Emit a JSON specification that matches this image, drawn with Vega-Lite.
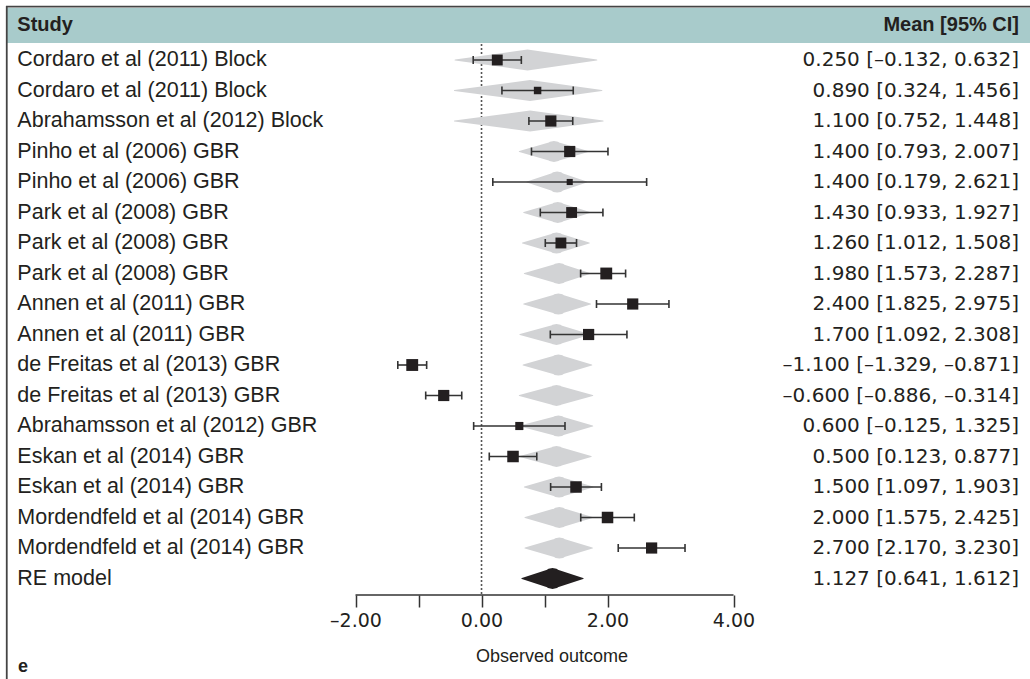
{
  "$schema": "https://vega.github.io/schema/vega-lite/v6.json",
  "width": 1024,
  "height": 673,
  "autosize": {"type": "none"},
  "padding": {"left": 6, "top": 6, "right": 0, "bottom": 0},
  "background": "white",
  "config": {"view": {"stroke": null}},
  "datasets": {
    "rows": [
      {"row": 1, "study": "Cordaro et al (2011) Block", "kind": "study", "est": 0.25, "lo": -0.132, "hi": 0.632, "weight": 5.7, "pl": -0.42, "pe": 0.73, "pu": 1.83, "ci": "0.250 [–0.132, 0.632]"},
      {"row": 2, "study": "Cordaro et al (2011) Block", "kind": "study", "est": 0.89, "lo": 0.324, "hi": 1.456, "weight": 2.7, "pl": -0.43, "pe": 0.77, "pu": 1.91, "ci": "0.890 [0.324, 1.456]"},
      {"row": 3, "study": "Abrahamsson et al (2012) Block", "kind": "study", "est": 1.1, "lo": 0.752, "hi": 1.448, "weight": 6.05, "pl": -0.43, "pe": 0.77, "pu": 1.93, "ci": "1.100 [0.752, 1.448]"},
      {"row": 4, "study": "Pinho et al (2006) GBR", "kind": "study", "est": 1.4, "lo": 0.793, "hi": 2.007, "weight": 6.05, "pl": 0.6, "pe": 1.15, "pu": 1.69, "ci": "1.400 [0.793, 2.007]"},
      {"row": 5, "study": "Pinho et al (2006) GBR", "kind": "study", "est": 1.4, "lo": 0.179, "hi": 2.621, "weight": 1.8, "pl": 0.72, "pe": 1.2, "pu": 1.67, "ci": "1.400 [0.179, 2.621]"},
      {"row": 6, "study": "Park et al (2008) GBR", "kind": "study", "est": 1.43, "lo": 0.933, "hi": 1.927, "weight": 5.7, "pl": 0.67, "pe": 1.21, "pu": 1.72, "ci": "1.430 [0.933, 1.927]"},
      {"row": 7, "study": "Park et al (2008) GBR", "kind": "study", "est": 1.26, "lo": 1.012, "hi": 1.508, "weight": 5.7, "pl": 0.65, "pe": 1.19, "pu": 1.71, "ci": "1.260 [1.012, 1.508]"},
      {"row": 8, "study": "Park et al (2008) GBR", "kind": "study", "est": 1.98, "lo": 1.573, "hi": 2.287, "weight": 6.8, "pl": 0.68, "pe": 1.23, "pu": 1.72, "ci": "1.980 [1.573, 2.287]"},
      {"row": 9, "study": "Annen et al (2011) GBR", "kind": "study", "est": 2.4, "lo": 1.825, "hi": 2.975, "weight": 6.05, "pl": 0.67, "pe": 1.22, "pu": 1.73, "ci": "2.400 [1.825, 2.975]"},
      {"row": 10, "study": "Annen et al (2011) GBR", "kind": "study", "est": 1.7, "lo": 1.092, "hi": 2.308, "weight": 6.05, "pl": 0.61, "pe": 1.19, "pu": 1.71, "ci": "1.700 [1.092, 2.308]"},
      {"row": 11, "study": "de Freitas et al (2013) GBR", "kind": "study", "est": -1.1, "lo": -1.329, "hi": -0.871, "weight": 6.8, "pl": 0.66, "pe": 1.22, "pu": 1.75, "ci": "–1.100 [–1.329, –0.871]"},
      {"row": 12, "study": "de Freitas et al (2013) GBR", "kind": "study", "est": -0.6, "lo": -0.886, "hi": -0.314, "weight": 6.05, "pl": 0.6, "pe": 1.19, "pu": 1.765, "ci": "–0.600 [–0.886, –0.314]"},
      {"row": 13, "study": "Abrahamsson et al (2012) GBR", "kind": "study", "est": 0.6, "lo": -0.125, "hi": 1.325, "weight": 3.2, "pl": 0.61, "pe": 1.22, "pu": 1.765, "ci": "0.600 [–0.125, 1.325]"},
      {"row": 14, "study": "Eskan et al (2014) GBR", "kind": "study", "est": 0.5, "lo": 0.123, "hi": 0.877, "weight": 6.4, "pl": 0.61, "pe": 1.19, "pu": 1.74, "ci": "0.500 [0.123, 0.877]"},
      {"row": 15, "study": "Eskan et al (2014) GBR", "kind": "study", "est": 1.5, "lo": 1.097, "hi": 1.903, "weight": 6.4, "pl": 0.68, "pe": 1.23, "pu": 1.77, "ci": "1.500 [1.097, 1.903]"},
      {"row": 16, "study": "Mordendfeld et al (2014) GBR", "kind": "study", "est": 2.0, "lo": 1.575, "hi": 2.425, "weight": 6.4, "pl": 0.69, "pe": 1.235, "pu": 1.76, "ci": "2.000 [1.575, 2.425]"},
      {"row": 17, "study": "Mordendfeld et al (2014) GBR", "kind": "study", "est": 2.7, "lo": 2.17, "hi": 3.23, "weight": 6.05, "pl": 0.69, "pe": 1.235, "pu": 1.76, "ci": "2.700 [2.170, 3.230]"},
      {"row": 18, "study": "RE model", "kind": "model", "est": 1.127, "lo": 0.641, "hi": 1.612, "pl": 0.641, "pe": 1.127, "pu": 1.612, "ci": "1.127 [0.641, 1.612]"}
    ]
  },
  "resolve": {"scale": {"size": "independent", "color": "independent"}},
  "layer": [
    {
      "data": {"values": [{}]},
      "mark": {"type": "rect", "color": "#a8cbcb"},
      "encoding": {
        "x": {
          "datum": -7.548, "type": "quantitative",
          "scale": {"domain": [-7.548, 8.706], "nice": false, "zero": false},
          "axis": {
            "values": [-2, -1, 0, 1, 2, 4],
            "domain": false, "grid": false, "title": null,
            "ticks": true, "tickSize": 12, "tickColor": "#333333", "tickWidth": 1.5,
            "labelFont": "DejaVu Sans", "labelFontSize": 19, "labelColor": "#231f20", "labelPadding": 4,
            "offset": -84,
            "labelExpr": "datum.value == -1 || datum.value == 1 ? '' : (datum.value < 0 ? '–' : '') + format(abs(datum.value), '.2f')"
          }
        },
        "x2": {"datum": 8.706},
        "y": {"datum": -0.705, "type": "quantitative", "scale": {"domain": [-0.7705, 21.295], "nice": false, "zero": false, "reverse": true}, "axis": null},
        "y2": {"datum": 0.443}
      }
    },
    {
      "data": {"values": [{}]},
      "mark": {"type": "rule", "color": "#444444", "strokeWidth": 1.8},
      "encoding": {
        "x": {"datum": -7.548, "type": "quantitative"},
        "x2": {"datum": 8.706},
        "y": {"datum": -0.752, "type": "quantitative", "axis": null}
      }
    },
    {
      "data": {"values": [{}]},
      "mark": {"type": "rule", "color": "#444444", "strokeWidth": 1.8},
      "encoding": {
        "x": {"datum": -7.536, "type": "quantitative"},
        "y": {"datum": -0.7705, "type": "quantitative", "axis": null},
        "y2": {"datum": 21.295}
      }
    },
    {
      "data": {"values": [{}]},
      "mark": {"type": "rule", "color": "#555555", "strokeWidth": 1.6, "strokeDash": [2, 2]},
      "encoding": {
        "x": {"datum": 0, "type": "quantitative"},
        "y": {"datum": 0.475, "type": "quantitative", "axis": null},
        "y2": {"datum": 18.54}
      }
    },
    {
      "data": {"name": "rows"},
      "transform": [{"fold": ["pl", "pe", "pu"], "as": ["k", "v"]}],
      "mark": {"type": "trail"},
      "encoding": {
        "x": {"field": "v", "type": "quantitative", "title": null},
        "y": {"field": "row", "type": "quantitative", "axis": null},
        "detail": {"field": "row", "type": "nominal"},
        "order": {"field": "v", "type": "quantitative"},
        "size": {"field": "k", "type": "ordinal", "scale": {"type": "ordinal", "domain": ["pl", "pe", "pu"], "range": [0, 21, 0]}, "legend": null},
        "color": {"field": "kind", "type": "nominal", "scale": {"domain": ["study", "model"], "range": ["#d2d3d5", "#231f20"]}, "legend": null}
      }
    },
    {
      "data": {"name": "rows"},
      "transform": [{"filter": "datum.row < 18"}],
      "mark": {"type": "rule", "color": "#333333", "strokeWidth": 1.6},
      "encoding": {
        "x": {"field": "lo", "type": "quantitative", "title": null},
        "x2": {"field": "hi"},
        "y": {"field": "row", "type": "quantitative", "axis": null}
      }
    },
    {
      "data": {"name": "rows"},
      "transform": [{"filter": "datum.row < 18"}, {"fold": ["lo", "hi"], "as": ["ck", "cv"]}],
      "mark": {"type": "point", "shape": "M0,-1L0,1", "size": 64, "filled": false, "stroke": "#333333", "strokeWidth": 1.6, "opacity": 1},
      "encoding": {
        "x": {"field": "cv", "type": "quantitative", "title": null},
        "y": {"field": "row", "type": "quantitative", "axis": null}
      }
    },
    {
      "data": {"name": "rows"},
      "transform": [{"filter": "datum.row < 18"}],
      "mark": {"type": "point", "shape": "square", "filled": true, "color": "#231f20", "opacity": 1, "strokeWidth": 0},
      "encoding": {
        "x": {"field": "est", "type": "quantitative", "title": null},
        "y": {"field": "row", "type": "quantitative", "axis": null},
        "size": {"field": "weight", "type": "quantitative", "scale": {"domain": [0, 7], "range": [0, 145], "zero": true}, "legend": null}
      }
    },
    {
      "data": {"values": [{}]},
      "mark": {"type": "rule", "color": "#333333", "strokeWidth": 1.5},
      "encoding": {
        "x": {"datum": -2, "type": "quantitative"},
        "x2": {"datum": 4},
        "y": {"datum": 18.541, "type": "quantitative", "axis": null}
      }
    },
    {
      "data": {"name": "rows"},
      "mark": {"type": "text", "align": "left", "baseline": "middle", "font": "Liberation Sans", "fontSize": 21.5, "color": "#231f20"},
      "encoding": {
        "x": {"datum": -7.368, "type": "quantitative"},
        "y": {"field": "row", "type": "quantitative", "axis": null},
        "text": {"field": "study"}
      }
    },
    {
      "data": {"name": "rows"},
      "mark": {"type": "text", "align": "right", "baseline": "middle", "font": "DejaVu Sans", "fontSize": 20, "color": "#231f20"},
      "encoding": {
        "x": {"datum": 8.532, "type": "quantitative"},
        "y": {"field": "row", "type": "quantitative", "axis": null},
        "text": {"field": "ci"}
      }
    },
    {
      "data": {"values": [{"t": "Study"}]},
      "mark": {"type": "text", "align": "left", "baseline": "middle", "font": "Liberation Sans", "fontWeight": "bold", "fontSize": 20, "color": "#231f20"},
      "encoding": {
        "x": {"datum": -7.368, "type": "quantitative"},
        "y": {"datum": -0.1475, "type": "quantitative", "axis": null},
        "text": {"field": "t"}
      }
    },
    {
      "data": {"values": [{"t": "Mean [95% CI]"}]},
      "mark": {"type": "text", "align": "right", "baseline": "middle", "font": "Liberation Sans", "fontWeight": "bold", "fontSize": 20, "color": "#231f20"},
      "encoding": {
        "x": {"datum": 8.532, "type": "quantitative"},
        "y": {"datum": -0.1475, "type": "quantitative", "axis": null},
        "text": {"field": "t"}
      }
    },
    {
      "data": {"values": [{"t": "Observed outcome"}]},
      "mark": {"type": "text", "align": "center", "baseline": "middle", "font": "Liberation Sans", "fontSize": 18, "color": "#231f20"},
      "encoding": {
        "x": {"datum": 1.12, "type": "quantitative"},
        "y": {"datum": 20.574, "type": "quantitative", "axis": null},
        "text": {"field": "t"}
      }
    },
    {
      "data": {"values": [{"t": "e"}]},
      "mark": {"type": "text", "align": "left", "baseline": "middle", "font": "Liberation Sans", "fontWeight": "bold", "fontSize": 18, "color": "#231f20"},
      "encoding": {
        "x": {"datum": -7.357, "type": "quantitative"},
        "y": {"datum": 20.9, "type": "quantitative", "axis": null},
        "text": {"field": "t"}
      }
    }
  ]
}
